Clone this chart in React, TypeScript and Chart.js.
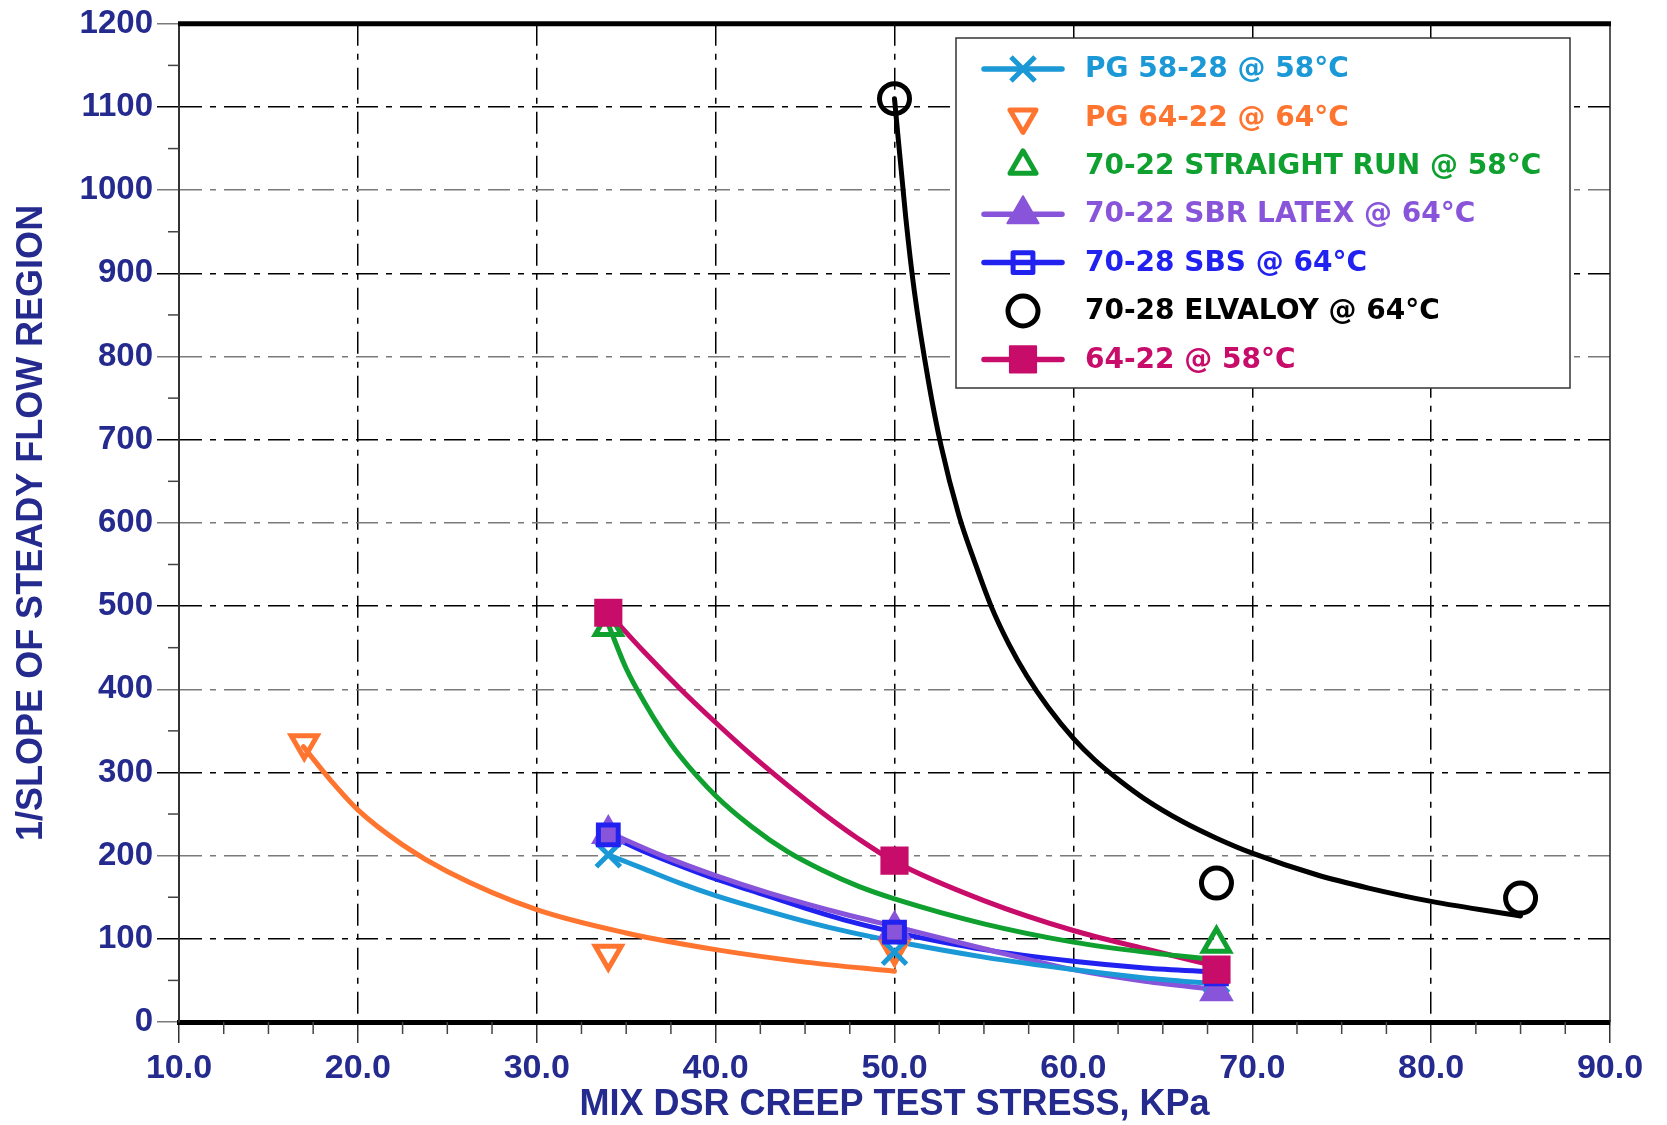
import React, { useEffect, useRef } from 'react';
import { Chart, registerables } from 'chart.js';
import { drawPoint } from 'chart.js/helpers';

Chart.register(...registerables);

// ---------- series labels & colours ----------
const seriesLabels = [
  'PG 58-28 @ 58°C',
  'PG 64-22 @ 64°C',
  '70-22 STRAIGHT RUN @ 58°C',
  '70-22 SBR LATEX @ 64°C',
  '70-28 SBS @ 64°C',
  '70-28 ELVALOY @ 64°C',
  '64-22 @ 58°C',
];
const seriesColors = ['#1B98D6', '#FF7530', '#10A030', '#8855DA', '#2222F0', '#000000', '#C80C6A'];

// ---------- measured points (stress kPa, 1/slope) ----------
const pg5828X = [34, 50, 68];
const pg5828Y = [201, 84, 50];
const pg6422X = [17, 34, 50];
const pg6422Y = [335, 82, 88];
const srX = [34, 68];
const srY = [475, 94];
const sbrX = [34, 50, 68];
const sbrY = [226, 111, 37];
const sbsX = [34, 50, 68];
const sbsY = [225, 108, 58];
const elvX = [50, 68, 85];
const elvY = [1110, 167, 149];
const b6422X = [34, 50, 68];
const b6422Y = [492, 194, 63];

// ---------- fitted curves ----------
const pg5828CurveX = [34, 36, 38, 40, 42, 45, 47.5, 50, 55, 60, 64, 68];
const pg5828CurveY = [201, 184, 167, 152, 139, 121, 108, 97, 78, 63, 53, 46];
const pg6422CurveX = [16.95, 18.5, 20, 22.5, 25, 30, 35, 40, 45, 50];
const pg6422CurveY = [331, 290, 255, 213, 181, 135, 107, 87, 72, 61];
const srCurveX = [34, 35, 36, 37, 38, 40, 42, 44, 46, 48, 50, 55, 60, 64, 68];
const srCurveY = [478, 425, 385, 350, 320, 272, 235, 205, 182, 163, 148, 118, 96, 84, 75];
const sbrCurveX = [34, 37, 40, 43, 47.5, 50, 55, 60, 64, 68];
const sbrCurveY = [228, 200, 176, 155, 128, 115, 88, 63, 49, 39];
const sbsCurveX = [34, 36, 38, 40, 42, 45, 47.5, 50, 55, 60, 64, 68];
const sbsCurveY = [225, 205, 188, 172, 158, 137, 121, 108, 87, 73, 65, 60];
const elvCurveX = [50, 50.63, 51.1, 51.9, 52.6, 53.6, 54.5, 55.4, 56.4, 57.4, 58.6, 60, 61.2, 62.6, 64, 66.1, 68, 70, 73.6, 76.5, 80, 85];
const elvCurveY = [1110, 967, 880, 770, 693, 609, 552, 500, 454, 416, 378, 341, 315, 290, 268, 241, 221, 203, 177, 161, 145, 127.5];
const b6422CurveX = [34, 36, 38, 40, 42, 44, 46, 48, 50, 55, 60, 64, 68];
const b6422CurveY = [492, 445, 401, 360, 321, 285, 251, 220, 193, 146, 110, 88, 67];

// ---------- axes ----------
const xMin = 10;
const xMax = 90;
const xStep = 10;
const yMin = 0;
const yMax = 1200;
const yStep = 100;
const xMinorTicks = [12.5, 15, 17.5, 22.5, 25, 27.5, 32.5, 35, 37.5, 42.5, 45, 47.5, 52.5, 55, 57.5, 62.5, 65, 67.5, 72.5, 75, 77.5, 82.5, 85, 87.5];
const yMinorTicks = [50, 150, 250, 350, 450, 550, 650, 750, 850, 950, 1050, 1150];
const xTitle = 'MIX DSR CREEP TEST STRESS, KPa';
const yTitle = '1/SLOPE OF STEADY FLOW REGION';

const pts = (xs: number[], ys: number[]) => xs.map((x, i) => ({ x, y: ys[i] }));

const markerX = [pg5828X, pg6422X, srX, sbrX, sbsX, elvX, b6422X];
const markerY = [pg5828Y, pg6422Y, srY, sbrY, sbsY, elvY, b6422Y];
const curveX = [pg5828CurveX, pg6422CurveX, srCurveX, sbrCurveX, sbsCurveX, elvCurveX, b6422CurveX];
const curveY = [pg5828CurveY, pg6422CurveY, srCurveY, sbrCurveY, sbsCurveY, elvCurveY, b6422CurveY];

// marker styles (style, not data)
const markerStyles = [
  { pointStyle: 'crossRot', radius: 17, borderWidth: 5, filled: false, rotation: 0, legendLine: true, order: 5 },
  { pointStyle: 'triangle', radius: 15, borderWidth: 5, filled: false, rotation: 180, legendLine: false, order: 6 },
  { pointStyle: 'triangle', radius: 15, borderWidth: 5, filled: false, rotation: 0, legendLine: false, order: 4 },
  { pointStyle: 'triangle', radius: 18, borderWidth: 2, filled: true, rotation: 0, legendLine: true, order: 3 },
  { pointStyle: 'rect', radius: 14, borderWidth: 5, filled: false, rotation: 0, legendLine: true, order: 2 },
  { pointStyle: 'circle', radius: 15, borderWidth: 5, filled: false, rotation: 0, legendLine: false, order: 7 },
  { pointStyle: 'rect', radius: 18.5, borderWidth: 2, filled: true, rotation: 0, legendLine: true, order: 1 },
];

const NAVY = '#242A8E';
const AXIS_FONT = "'Liberation Sans', Arial, Helvetica, sans-serif";
const LEGEND_FONT = "'Comic Sans MS', 'DejaVu Sans', sans-serif";

const framePlugin = {
  id: 'frame',
  beforeDatasetsDraw(chart: any) {
    const { ctx, chartArea } = chart;
    const { left, right, top, bottom } = chartArea;
    const x = chart.scales.x;
    const y = chart.scales.y;
    ctx.save();
    ctx.lineWidth = 1.5;
    ctx.strokeStyle = '#444';
    ctx.setLineDash([]);
    for (const v of yMinorTicks) {
      const py = y.getPixelForValue(v);
      ctx.beginPath();
      ctx.moveTo(left - 11, py);
      ctx.lineTo(left, py);
      ctx.stroke();
    }
    for (const v of xMinorTicks) {
      const px = x.getPixelForValue(v);
      ctx.beginPath();
      ctx.moveTo(px, bottom);
      ctx.lineTo(px, bottom + 12);
      ctx.stroke();
    }
    ctx.strokeStyle = '#222';
    ctx.beginPath();
    ctx.moveTo(right, top);
    ctx.lineTo(right, bottom);
    ctx.stroke();
    ctx.strokeStyle = '#000';
    ctx.lineWidth = 5;
    ctx.beginPath();
    ctx.moveTo(left - 1, top);
    ctx.lineTo(right + 1, top);
    ctx.stroke();
    ctx.restore();
  },
};

const legendPlugin = {
  id: 'boxLegend',
  afterDatasetsDraw(chart: any) {
    const { ctx } = chart;
    const box = { left: 956, top: 38, right: 1570, bottom: 388 };
    const firstRow = 69;
    const rowGap = 48.4;
    const lineX1 = 984;
    const lineX2 = 1062;
    const markX = 1023;
    const textX = 1085;
    ctx.save();
    ctx.fillStyle = '#fff';
    ctx.fillRect(box.left, box.top, box.right - box.left, box.bottom - box.top);
    ctx.strokeStyle = '#333';
    ctx.lineWidth = 1.5;
    ctx.setLineDash([]);
    ctx.strokeRect(box.left, box.top, box.right - box.left, box.bottom - box.top);
    seriesLabels.forEach((label, i) => {
      const cy = firstRow + i * rowGap;
      const color = seriesColors[i];
      const st = markerStyles[i];
      if (st.legendLine) {
        ctx.strokeStyle = color;
        ctx.lineWidth = 5.5;
        ctx.lineCap = 'round';
        ctx.beginPath();
        ctx.moveTo(lineX1, cy);
        ctx.lineTo(lineX2, cy);
        ctx.stroke();
      }
      ctx.lineCap = 'butt';
      ctx.strokeStyle = color;
      ctx.fillStyle = st.filled ? color : 'rgba(0,0,0,0)';
      ctx.lineWidth = st.borderWidth;
      ctx.lineJoin = 'round';
      drawPoint(ctx, { pointStyle: st.pointStyle, rotation: st.rotation, radius: st.radius, borderWidth: st.borderWidth } as any, markX, cy);
      ctx.fillStyle = color;
      ctx.font = `bold 28px ${LEGEND_FONT}`;
      ctx.textAlign = 'left';
      ctx.textBaseline = 'middle';
      ctx.fillText(label, textX, cy + 1);
    });
    ctx.restore();
  },
};

export default function App() {
  const canvasRef = useRef<HTMLCanvasElement | null>(null);

  useEffect(() => {
    if (!canvasRef.current) return;
    const markerSets = seriesLabels.map((label, i) => {
      const st = markerStyles[i];
      return {
        label,
        data: pts(markerX[i], markerY[i]),
        showLine: false,
        pointStyle: st.pointStyle,
        pointRadius: st.radius,
        pointBorderWidth: st.borderWidth,
        pointBorderColor: seriesColors[i],
        pointBackgroundColor: st.filled ? seriesColors[i] : 'rgba(0,0,0,0)',
        pointRotation: st.rotation,
        borderColor: seriesColors[i],
        backgroundColor: seriesColors[i],
        order: st.order,
        clip: false,
      };
    });
    const curveSets = seriesLabels.map((label, i) => ({
      label: label + ' fit',
      data: pts(curveX[i], curveY[i]),
      showLine: true,
      borderColor: seriesColors[i],
      backgroundColor: seriesColors[i],
      borderWidth: 5,
      borderCapStyle: 'round',
      borderJoinStyle: 'round',
      pointRadius: 0,
      cubicInterpolationMode: 'monotone',
      fill: false,
      order: 20 + i,
    }));

    const chart = new Chart(canvasRef.current, {
      type: 'scatter',
      data: { datasets: [...markerSets, ...curveSets] as any },
      options: {
        animation: false,
        responsive: false,
        devicePixelRatio: 1,
        events: [],
        layout: { padding: { top: 20, right: 57, left: 0, bottom: 0 } },
        plugins: {
          legend: { display: false },
          tooltip: { enabled: false },
        },
        scales: {
          x: {
            type: 'linear',
            position: 'bottom',
            min: xMin,
            max: xMax,
            afterFit: (s: any) => { s.height = 103; },
            ticks: {
              stepSize: xStep,
              autoSkip: false,
              maxRotation: 0,
              padding: 5,
              color: NAVY,
              font: { family: AXIS_FONT, size: 34, weight: 'bold', lineHeight: 1.2 },
              callback: (v: any) => Number(v).toFixed(1),
            },
            grid: {
              color: (c: any) => (c.tick && (c.tick.value === xMin || c.tick.value === xMax) ? 'rgba(0,0,0,0)' : '#000'),
              lineWidth: 1.5,
              tickLength: 21,
              tickWidth: 1.5,
              tickColor: '#333',
            },
            border: { display: true, width: 5, color: '#000', dash: [22, 8, 6, 8] },
            title: {
              display: true,
              text: xTitle,
              color: NAVY,
              font: { family: AXIS_FONT, size: 36, weight: 'bold', lineHeight: 1 },
              padding: { top: 0, bottom: 2 },
            },
          },
          y: {
            type: 'linear',
            min: yMin,
            max: yMax,
            afterFit: (s: any) => { s.width = 179; },
            ticks: {
              stepSize: yStep,
              padding: 4,
              color: NAVY,
              font: { family: AXIS_FONT, size: 33, weight: 'bold', lineHeight: 1.2 },
              callback: (v: any) => String(Math.round(Number(v))),
            },
            grid: {
              color: (c: any) => {
                const v = c.tick ? c.tick.value : 0;
                if (v === yMin || v === yMax) return 'rgba(0,0,0,0)';
                return v % 200 === 0 ? '#7a7a7a' : '#000';
              },
              lineWidth: 1.5,
              tickLength: 22,
              tickWidth: 1.5,
              tickColor: (c: any) => {
                const v = c.tick ? c.tick.value : 0;
                return v % 200 === 0 ? '#7a7a7a' : '#000';
              },
            },
            border: { display: true, width: 2, color: '#333', dash: [22, 8, 6, 8] },
            title: {
              display: true,
              text: yTitle,
              color: NAVY,
              font: { family: AXIS_FONT, size: 36, weight: 'bold', lineHeight: 1 },
              padding: { top: 14, bottom: 0 },
            },
          },
        },
      } as any,
      plugins: [framePlugin, legendPlugin],
    });
    return () => chart.destroy();
  }, []);

  return (
    <div style={{ position: 'absolute', left: 0, top: 0, width: 1667, height: 1125, background: '#fff' }}>
      <canvas ref={canvasRef} width={1667} height={1125} style={{ display: 'block', width: 1667, height: 1125 }} />
    </div>
  );
}
